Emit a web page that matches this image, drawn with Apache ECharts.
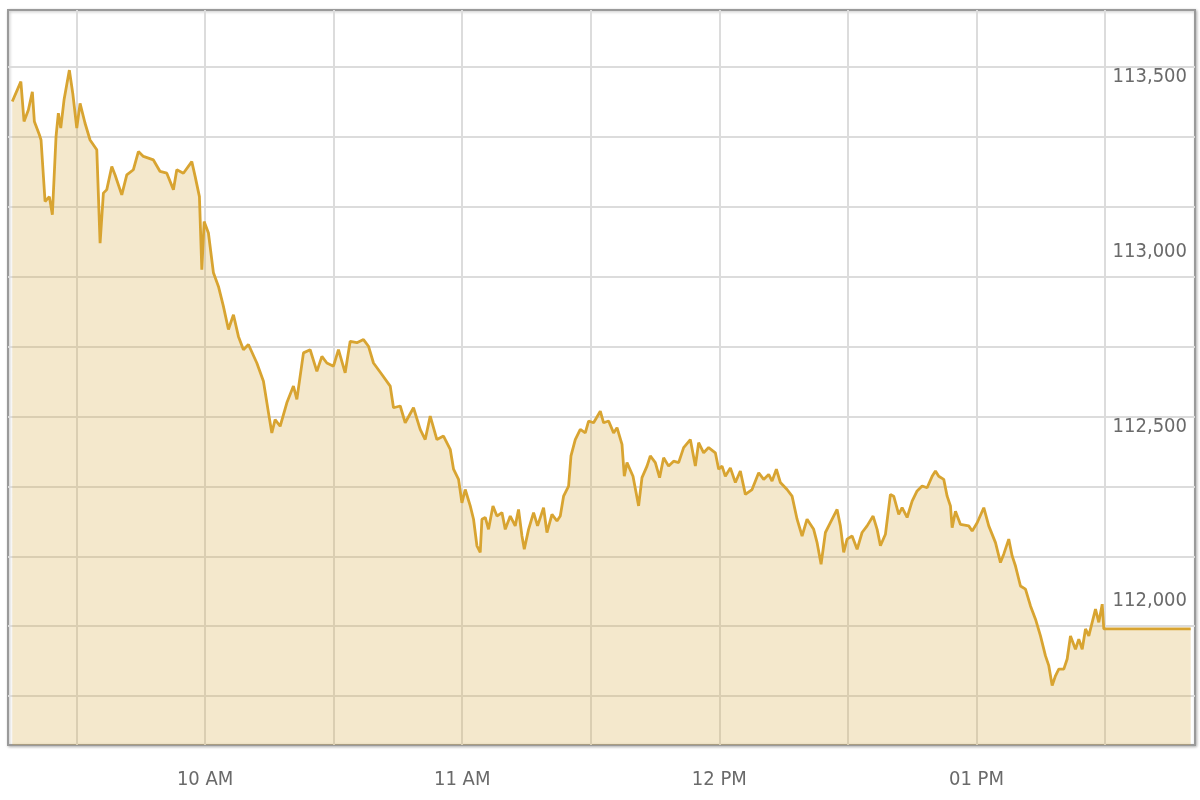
<!DOCTYPE html>
<html>
<head>
<meta charset="utf-8">
<script src="https://cdn.jsdelivr.net/npm/echarts@6/dist/echarts.min.js"></script>
<style>html,body{margin:0;padding:0;background:#fff;}#chart{width:1200px;height:800px;}</style>
</head>
<body>
<div id="chart"></div>
<script>
// minutes after 09:00
const minutes = [15,17,17.74,18.75,19.68,20.15,21.32,21.71,22.65,23.65,24.35,25.21,25.75,26.31,27.08,28.32,29.11,30.05,30.82,31.98,33.15,34.72,35.49,36.26,37.05,38.22,38.99,40.55,41.72,43.26,44.43,45.6,47.93,49.49,51.06,52.6,53.39,54.93,56.89,57.67,58.67,59.23,59.77,60,60.77,61.94,63.11,64.27,65.44,66.61,67.77,68.94,70.11,72.07,73.61,74.78,75.57,76.34,77.51,79.07,80.61,81.41,82.95,84.51,86.08,87.25,88.41,89.95,91.12,92.68,93.85,95.42,96.96,98.12,99.29,101.25,103.19,103.96,105.53,106.69,108.63,110.19,111.36,112.53,114.09,115.63,117.2,117.97,119.14,119.93,120.7,121.87,122.64,123.43,124.2,124.6,125.37,126.14,127.17,128.1,129.27,130.04,131.21,132.37,133.14,133.94,134.48,135.48,136.65,137.58,138.98,139.77,140.94,142.11,142.88,143.65,144.82,145.38,146.38,147.55,148.72,149.49,150.65,152.22,152.99,154.16,155.32,156.12,157.28,157.82,158.45,159.85,161.16,161.95,163.12,163.89,165.06,166.06,167,168.16,169.33,170.5,171.67,173.23,174.4,175.17,176.34,177.5,179.07,179.84,180.63,181.4,182.57,183.74,184.9,186.07,187.63,189.18,190.34,191.51,192.3,193.31,194.24,195.8,196.97,198.14,199.31,200.47,202.01,202.81,203.74,204.75,205.91,207.48,208.25,209.02,209.81,210.98,212.15,213.31,214.48,215.88,216.82,217.59,218.76,219.92,220.69,221.86,222.65,223.82,224.99,226.15,227.32,228.49,229.66,230.43,231.2,232.37,233.16,233.93,234.33,235.1,236.27,238.2,239,240.17,241.71,242.87,244.44,245.6,246.37,247.54,248.33,249.11,250.27,251.44,252.61,253.78,254.94,256.11,256.88,257.67,258.44,259.21,260.38,261.17,261.94,263.11,263.88,264.68,265.45,266.22,267.78,268.55,269.35,269.72,290];
const values = [113401,113458,113344,113377,113429,113344,113306,113291,113115,113129,113077,113301,113368,113325,113406,113491,113425,113325,113396,113339,113291,113263,112996,113139,113149,113215,113191,113134,113191,113206,113258,113244,113234,113201,113196,113149,113206,113196,113229,113187,113129,112920,113058,113058,113025,112911,112872,112815,112749,112791,112729,112691,112706,112653,112601,112511,112453,112491,112472,112539,112587,112549,112682,112691,112629,112672,112653,112644,112691,112625,112715,112711,112720,112701,112653,112620,112587,112525,112530,112482,112525,112463,112434,112501,112434,112444,112406,112349,112320,112253,112291,112244,112206,112130,112111,112206,112211,112177,112244,112215,112225,112177,112215,112187,112234,112158,112120,112177,112225,112187,112239,112168,112220,112201,112215,112272,112301,112387,112434,112463,112453,112487,112482,112515,112482,112487,112453,112468,112420,112329,112368,112329,112244,112325,112358,112387,112368,112325,112382,112358,112372,112368,112411,112434,112358,112425,112396,112411,112396,112349,112358,112329,112353,112311,112344,112277,112291,112339,112320,112334,112315,112349,112311,112291,112272,112206,112158,112206,112177,112139,112077,112168,112196,112234,112187,112111,112149,112158,112120,112168,112187,112215,112177,112130,112163,112277,112272,112220,112239,112211,112258,112287,112301,112296,112329,112344,112329,112320,112272,112244,112182,112229,112191,112187,112172,112196,112239,112187,112139,112082,112106,112149,112101,112072,112015,112006,111958,111920,111872,111815,111787,111730,111758,111777,111777,111806,111872,111834,111863,111834,111892,111872,111949,111911,111963,111892,111892];
const xGridMinutes = [30,60,90,120,150,180,210,240,270];
const xLabelMinutes = [60,120,180,240];
const yGridValues = [111700,111900,112100,112300,112500,112700,112900,113100,113300,113500];
const yLabelValues = [112000,112500,113000,113500];

const FONT = "'Liberation Sans Narrow','DejaVu Sans Condensed','Roboto Condensed',sans-serif";
const data = minutes.map((m, i) => [m, values[i]]);

function hourLabel(m) {
  const h = 9 + Math.floor(m / 60);
  const h12 = ((h + 11) % 12) + 1;
  return String(h12).padStart(2, '0') + ' ' + (h >= 12 ? 'PM' : 'AM');
}

const chart = echarts.init(document.getElementById('chart'));
chart.setOption({
  animation: false,
  backgroundColor: '#ffffff',
  grid: {
    left: 8, right: 5, top: 10, bottom: 55,
    show: true, borderColor: '#9a9a9a', borderWidth: 2,
    shadowColor: 'rgba(0,0,0,0.25)', shadowBlur: 3, shadowOffsetX: 1, shadowOffsetY: 1,
    backgroundColor: '#ffffff'
  },
  xAxis: {
    type: 'value', min: 14, max: 291,
    axisLine: { show: false },
    axisTick: { show: false, customValues: xGridMinutes },
    splitLine: { show: true, lineStyle: { color: '#dcdcdc', width: 2 } },
    axisLabel: {
      customValues: xLabelMinutes, formatter: hourLabel,
      color: '#6a6a6a', fontSize: 20, fontFamily: FONT, margin: 25
    }
  },
  yAxis: {
    type: 'value', position: 'right', min: 111560, max: 113663,
    axisLine: { show: false },
    axisTick: { show: false, customValues: yGridValues },
    splitLine: { show: true, lineStyle: { color: '#dcdcdc', width: 2 } },
    axisLabel: {
      customValues: yLabelValues, inside: true, margin: 8,
      verticalAlign: 'top',
      formatter: v => v.toLocaleString('en-US'),
      color: '#6a6a6a', fontSize: 20, fontFamily: FONT
    }
  },
  series: [{
    type: 'line', data: data, showSymbol: false, symbol: 'none',
    lineStyle: { color: '#d8a431', width: 2.8 },
    areaStyle: { color: 'rgba(214,166,58,0.37)', origin: 'start' },
    silent: true
  }]
});
</script>
</body>
</html>
